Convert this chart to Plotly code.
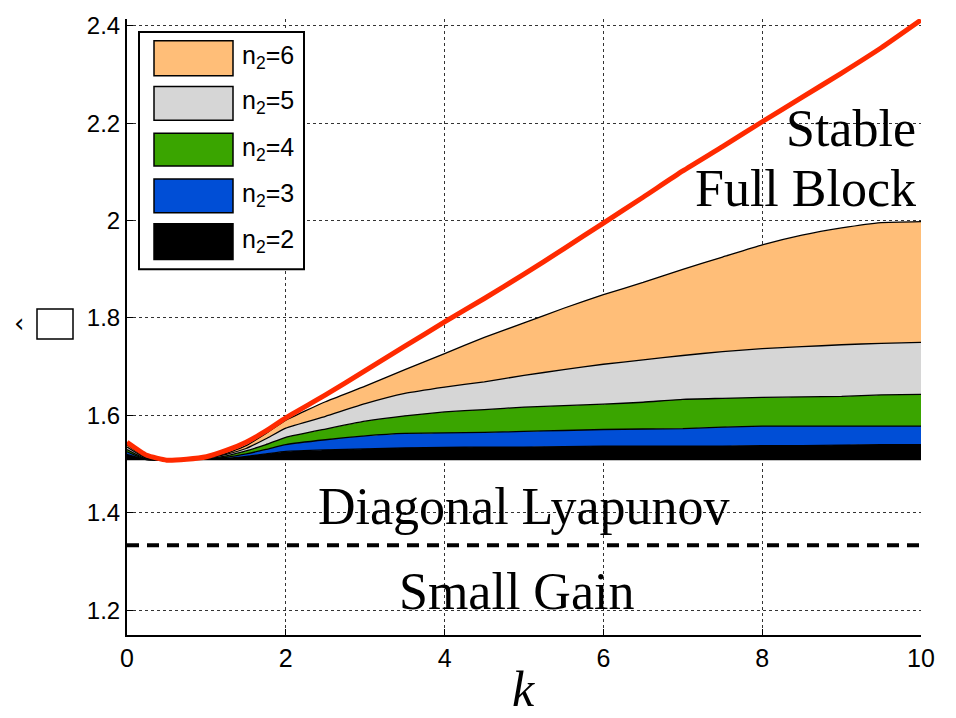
import plotly.graph_objects as go

# ---- data ----
k = [0, 0.25, 0.5, 0.75, 1, 1.25, 1.5, 1.75, 2, 2.5, 3, 3.5, 4, 4.5, 5,
     5.5, 6, 6.5, 7, 7.5, 8, 8.5, 9, 9.5, 10]

baseline = 1.508
small_gain_bound = 4 / 3

full_block = [1.545, 1.518, 1.508, 1.510, 1.515, 1.528, 1.545, 1.568, 1.595,
              1.642, 1.692, 1.742, 1.792, 1.840, 1.890, 1.942, 1.995, 2.048,
              2.102, 2.152, 2.203, 2.253, 2.303, 2.355, 2.412]

n2_6 = [1.540, 1.512, 1.508, 1.509, 1.513, 1.522, 1.538, 1.563, 1.590,
        1.628, 1.660, 1.694, 1.727, 1.760, 1.790, 1.820, 1.848, 1.873,
        1.900, 1.925, 1.950, 1.970, 1.985, 1.996, 1.998]
n2_5 = [1.535, 1.511, 1.508, 1.509, 1.512, 1.520, 1.532, 1.552, 1.574,
        1.598, 1.624, 1.645, 1.658, 1.669, 1.682, 1.694, 1.705, 1.714,
        1.723, 1.731, 1.737, 1.741, 1.745, 1.748, 1.750]
n2_4 = [1.530, 1.510, 1.508, 1.509, 1.511, 1.517, 1.527, 1.540, 1.555,
        1.572, 1.588, 1.599, 1.607, 1.612, 1.617, 1.620, 1.623, 1.627,
        1.633, 1.635, 1.637, 1.638, 1.639, 1.642, 1.643]
n2_3 = [1.525, 1.509, 1.508, 1.509, 1.510, 1.514, 1.521, 1.530, 1.540,
        1.550, 1.558, 1.563, 1.564, 1.565, 1.567, 1.569, 1.571, 1.572,
        1.573, 1.576, 1.578, 1.578, 1.578, 1.578, 1.578]
n2_2 = [1.520, 1.509, 1.508, 1.509, 1.510, 1.512, 1.516, 1.521, 1.526,
        1.529, 1.531, 1.533, 1.534, 1.535, 1.535, 1.536, 1.537, 1.537,
        1.537, 1.537, 1.538, 1.538, 1.539, 1.540, 1.540]

band_names = ["n<sub>2</sub>=2", "n<sub>2</sub>=3", "n<sub>2</sub>=4",
              "n<sub>2</sub>=5", "n<sub>2</sub>=6"]
band_values = [n2_2, n2_3, n2_4, n2_5, n2_6]
band_colors = ["#000000", "#004ED6", "#3AA500", "#D6D6D6", "#FFBE78"]

x_ticks = [0, 2, 4, 6, 8, 10]
y_ticks = [1.2, 1.4, 1.6, 1.8, 2.0, 2.2, 2.4]
y_ticktext = ["1.2", "1.4", "1.6", "1.8", "2", "2.2", "2.4"]

# ---- figure ----
fig = go.Figure()

fig.add_trace(go.Scatter(x=k, y=[baseline] * len(k), mode="lines",
                         line=dict(width=0, color="black"),
                         showlegend=False, hoverinfo="skip"))
for name, vals, col in zip(band_names, band_values, band_colors):
    fig.add_trace(go.Scatter(x=k, y=vals, mode="lines", name=name,
                             fill="tonexty", fillcolor=col,
                             line=dict(color="black", width=1.3,
                                       shape="spline", smoothing=0.4),
                             showlegend=False))

fig.add_trace(go.Scatter(x=[k[0], k[-1]], y=[small_gain_bound] * 2,
                         mode="lines",
                         line=dict(color="black", width=4, dash="12px,8px"),
                         showlegend=False))
fig.add_trace(go.Scatter(x=k, y=full_block, mode="lines",
                         line=dict(color="#FF2A00", width=5,
                                   shape="spline", smoothing=0.5),
                         showlegend=False))

W, H = 956, 718
L, R, T, B = 127, 35, 15, 83
pw, ph = W - L - R, H - T - B


def px(xp):
    return (xp - L) / pw


def py(yp):
    return (H - B - yp) / ph


shapes = []
annotations = []

sans = "Liberation Sans, Arial, Helvetica, sans-serif"
serif = "Liberation Serif, Times New Roman, serif"

# manual legend (matching the large swatches of the original)
shapes.append(dict(type="rect", xref="paper", yref="paper",
                   x0=px(139), x1=px(304), y0=py(267), y1=py(28),
                   line=dict(color="black", width=2), fillcolor="white",
                   layer="above"))
rows = [(37, 72), (83, 117), (130, 163), (176, 210), (221, 257)]
for (y0, y1), name, col in zip(rows, band_names[::-1], band_colors[::-1]):
    shapes.append(dict(type="rect", xref="paper", yref="paper",
                       x0=px(154), x1=px(233), y0=py(y1), y1=py(y0),
                       line=dict(color="black", width=1.5), fillcolor=col,
                       layer="above"))
    annotations.append(dict(xref="paper", yref="paper", x=px(240),
                            y=py((y0 + y1) / 2 - 1), text=name, showarrow=False,
                            xanchor="left", yanchor="middle",
                            font=dict(family=sans, size=25, color="black")))

annotations += [
    dict(x=9.96, y=2.19, xref="x", yref="y", text="Stable", showarrow=False,
         xanchor="right", yanchor="middle",
         font=dict(family=serif, size=52, color="black")),
    dict(x=9.96, y=2.065, xref="x", yref="y", text="Full Block", showarrow=False,
         xanchor="right", yanchor="middle",
         font=dict(family=serif, size=52, color="black")),
    dict(x=5.0, y=1.413, xref="x", yref="y", text="Diagonal Lyapunov",
         showarrow=False, xanchor="center", yanchor="middle",
         font=dict(family=serif, size=52, color="black")),
    dict(x=4.9, y=1.238, xref="x", yref="y", text="Small Gain",
         showarrow=False, xanchor="center", yanchor="middle",
         font=dict(family=serif, size=52, color="black")),
    dict(xref="paper", yref="paper", x=px(523), y=py(689), text="<i>k</i>",
         showarrow=False, xanchor="center", yanchor="middle",
         font=dict(family=serif, size=50, color="black")),
    dict(xref="paper", yref="paper", x=px(19), y=py(321), text="‹",
         showarrow=False, xanchor="center", yanchor="middle",
         font=dict(family="DejaVu Sans", size=26, color="black")),
]
# missing-glyph box of the original y-axis label
shapes.append(dict(type="rect", xref="paper", yref="paper",
                   x0=px(37), x1=px(73), y0=py(337), y1=py(307),
                   line=dict(color="black", width=1.5), fillcolor="white"))

fig.update_layout(
    width=W, height=H,
    margin=dict(l=L, r=R, t=T, b=B),
    paper_bgcolor="white", plot_bgcolor="white",
    shapes=shapes, annotations=annotations,
    showlegend=False,
    xaxis=dict(range=[0, 10], tickvals=x_ticks, ticks="inside", ticklen=6,
               tickcolor="black", showline=True, linecolor="black",
               linewidth=2, showgrid=True, gridcolor="#333",
               griddash="dot", gridwidth=1, zeroline=False,
               tickfont=dict(family=sans, size=25, color="black")),
    yaxis=dict(range=[1.149, 2.414], tickvals=y_ticks, ticktext=y_ticktext,
               ticks="inside", ticklen=6, tickcolor="black", showline=True,
               linecolor="black", linewidth=2, showgrid=True,
               gridcolor="#333", griddash="dot", gridwidth=1,
               zeroline=False,
               tickfont=dict(family=sans, size=24, color="black")),
)

fig.write_html("out.html")
